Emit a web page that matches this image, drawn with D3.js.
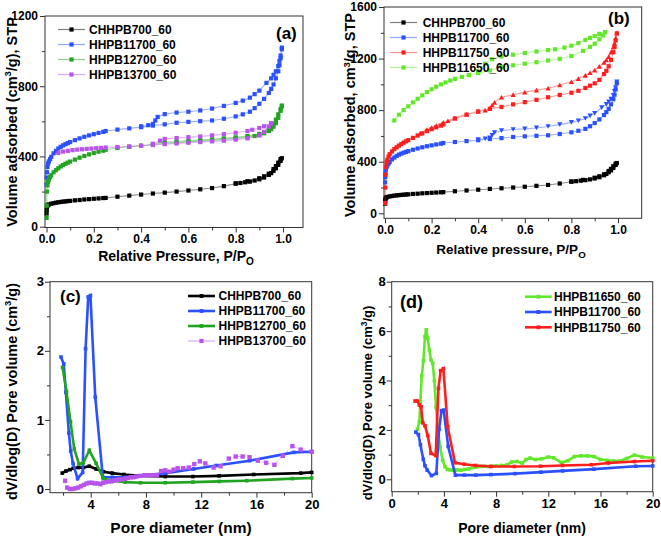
<!DOCTYPE html>
<html><head><meta charset="utf-8">
<script src="https://cdn.jsdelivr.net/npm/d3@7"></script>
<style>
body{margin:0;background:#fff;}
svg text{font-family:"Liberation Sans",Arial,sans-serif;font-weight:bold;fill:#000;}
</style></head><body>
<svg id="chart" width="661" height="537"></svg>
<script>
// ---------------- DATA ----------------
// Isotherms (P/P0, volume cm3/g STP)
const isoCHHPB700_ads=[[0.0005,75],[0.001,95],[0.002,112],[0.004,120],[0.007,124],[0.01,127],[0.02,131],[0.03,134],[0.04,137],[0.05,139],[0.06,141],[0.07,143],[0.08,144],[0.09,146],[0.1,147],[0.12,150],[0.14,152],[0.16,155],[0.18,157],[0.2,159],[0.22,161],[0.24,163],[0.25,164],[0.3,171],[0.35,177],[0.4,183],[0.45,189],[0.5,194],[0.55,200],[0.6,206],[0.65,213],[0.7,220],[0.75,231],[0.8,245],[0.82,249],[0.84,253],[0.86,257],[0.88,263],[0.9,270],[0.92,280],[0.94,295],[0.95,305],[0.96,318],[0.97,333],[0.98,352],[0.99,375],[0.995,390]];
const isoCHHPB700_des=[[0.99,385],[0.98,365],[0.97,345],[0.96,328],[0.94,302],[0.92,287],[0.9,276],[0.85,259],[0.8,247]];
const isoHHPB11700_ads=[[0.0005,240],[0.001,280],[0.002,310],[0.004,340],[0.007,360],[0.01,372],[0.015,385],[0.02,398],[0.03,418],[0.04,432],[0.05,445],[0.06,455],[0.07,463],[0.08,470],[0.09,476],[0.1,482],[0.12,493],[0.14,503],[0.16,512],[0.18,520],[0.2,527],[0.22,534],[0.24,540],[0.25,545],[0.3,553],[0.35,560],[0.4,567],[0.45,576],[0.5,583],[0.55,592],[0.6,597],[0.65,601],[0.7,605],[0.75,615],[0.8,628],[0.83,640],[0.86,655],[0.88,675],[0.9,700],[0.92,728],[0.94,762],[0.95,785],[0.96,810],[0.97,845],[0.98,885],[0.985,920],[0.99,960],[0.995,1010]];
const isoHHPB11700_des=[[0.995,1020],[0.99,975],[0.985,945],[0.98,915],[0.97,885],[0.96,865],[0.95,845],[0.93,819],[0.9,775],[0.88,755],[0.86,735],[0.83,718],[0.8,705],[0.75,688],[0.7,673],[0.65,662],[0.6,655],[0.55,650],[0.5,641],[0.47,625],[0.46,605],[0.45,585],[0.43,578],[0.4,572]];
const isoHHPB12700_ads=[[0.0005,50],[0.001,120],[0.002,200],[0.004,235],[0.007,255],[0.01,268],[0.015,282],[0.02,293],[0.03,310],[0.04,322],[0.05,333],[0.06,343],[0.07,351],[0.08,358],[0.09,365],[0.1,371],[0.12,382],[0.14,393],[0.16,403],[0.18,412],[0.2,420],[0.22,427],[0.24,433],[0.25,438],[0.3,448],[0.35,455],[0.4,462],[0.45,468],[0.5,475],[0.55,479],[0.6,483],[0.65,487],[0.7,492],[0.75,497],[0.8,503],[0.85,510],[0.88,516],[0.9,522],[0.92,532],[0.94,545],[0.95,555],[0.96,570],[0.97,590],[0.98,620],[0.99,660],[0.995,685]];
const isoHHPB12700_des=[[0.995,690],[0.99,670],[0.98,640],[0.97,610],[0.96,585],[0.95,565],[0.94,550],[0.92,537],[0.9,529],[0.85,517],[0.8,509],[0.75,503],[0.7,498],[0.65,493],[0.6,489],[0.55,485],[0.5,481],[0.45,471]];
const isoHHPB13700_ads=[[0.05,420],[0.07,428],[0.09,432],[0.11,436],[0.13,439],[0.15,441],[0.17,443],[0.19,445],[0.21,447],[0.23,449],[0.25,451],[0.3,454],[0.35,457],[0.4,461],[0.45,465],[0.5,470],[0.55,474],[0.6,478],[0.65,482],[0.7,486],[0.75,490],[0.8,496],[0.85,503],[0.9,520],[0.92,540],[0.94,570],[0.95,590]];
const isoHHPB13700_des=[[0.95,590],[0.92,572],[0.9,562],[0.87,552],[0.85,545],[0.8,535],[0.75,527],[0.7,520],[0.65,514],[0.6,510],[0.55,505],[0.5,500],[0.48,490],[0.45,472]];
const isoHHPB11750_ads=[[0.0005,80],[0.001,200],[0.002,300],[0.004,360],[0.007,395],[0.01,415],[0.015,440],[0.02,458],[0.03,480],[0.04,498],[0.05,512],[0.06,525],[0.07,537],[0.08,548],[0.09,558],[0.1,567],[0.12,585],[0.14,603],[0.16,620],[0.18,637],[0.2,652],[0.22,667],[0.24,680],[0.25,690],[0.3,735],[0.35,765],[0.4,790],[0.45,810],[0.5,825],[0.55,845],[0.6,862],[0.65,880],[0.7,900],[0.75,918],[0.8,935],[0.83,950],[0.86,972],[0.88,990],[0.9,1008],[0.92,1035],[0.94,1080],[0.95,1105],[0.96,1140],[0.97,1190],[0.98,1250],[0.985,1290],[0.99,1340],[0.995,1395]];
const isoHHPB11750_des=[[0.995,1400],[0.99,1360],[0.985,1320],[0.98,1290],[0.97,1250],[0.96,1215],[0.95,1190],[0.94,1170],[0.92,1140],[0.9,1110],[0.88,1090],[0.86,1070],[0.83,1045],[0.8,1020],[0.75,995],[0.7,970],[0.65,955],[0.6,940],[0.55,920],[0.5,900],[0.47,860],[0.46,840],[0.45,815],[0.43,800],[0.4,790],[0.35,768],[0.3,740],[0.27,718],[0.25,705],[0.22,680],[0.2,665],[0.18,650],[0.15,620]];
const isoHHPB11650_ads=[[0.04,720],[0.06,765],[0.08,800],[0.1,830],[0.12,860],[0.14,888],[0.16,915],[0.18,940],[0.2,962],[0.22,982],[0.24,1000],[0.26,1015],[0.28,1030],[0.3,1043],[0.33,1058],[0.36,1072],[0.4,1088],[0.45,1108],[0.5,1135],[0.55,1148],[0.6,1160],[0.65,1172],[0.7,1185],[0.75,1198],[0.8,1220],[0.85,1260],[0.88,1290],[0.9,1315],[0.92,1350],[0.935,1380],[0.945,1405]];
const isoHHPB11650_des=[[0.945,1405],[0.92,1392],[0.9,1375],[0.88,1360],[0.86,1345],[0.83,1320],[0.8,1300],[0.77,1285],[0.73,1272],[0.7,1266],[0.65,1255],[0.6,1243],[0.55,1230],[0.5,1217],[0.46,1195],[0.43,1160],[0.4,1100]];

// Pore size distributions (pore diameter nm, dV/dlog(D))
const psdCHHPB700=[[1.94,0.23],[2.21,0.26],[2.5,0.28],[2.74,0.3],[3.1,0.31],[3.47,0.31],[3.9,0.33],[4.39,0.29],[4.92,0.25],[5.55,0.23],[6.4,0.21],[7.6,0.19],[9.4,0.18],[11.4,0.18],[13.3,0.19],[15.8,0.21],[19.2,0.23],[20,0.24]];
const psdHHPB11700=[[1.85,1.91],[2.05,1.81],[2.2,1.4],[2.42,0.81],[2.55,0.55],[2.72,0.37],[3.05,0.15],[3.42,0.24],[3.63,2.03],[3.82,2.78],[3.98,2.8],[4.33,1.33],[4.88,0.17],[5.57,0.17],[6.45,0.17],[7.6,0.19],[9.45,0.23],[11.45,0.29],[13.1,0.34],[15.5,0.41],[18.7,0.53],[20,0.54]];
const psdHHPB12700=[[1.96,1.76],[2.25,1.41],[2.54,0.97],[2.81,0.58],[3.15,0.36],[3.47,0.38],[3.9,0.56],[4.39,0.37],[4.92,0.15],[5.6,0.12],[6.5,0.1],[7.6,0.09],[9.4,0.09],[11.4,0.1],[13.3,0.11],[15.3,0.12],[18.6,0.15],[20,0.16]];
const psdHHPB13700=[[2.15,0.12],[2.3,0.02],[2.5,0.0],[2.7,0.0],[2.9,0.01],[3.1,0.02],[3.3,0.04],[3.5,0.06],[3.7,0.08],[3.9,0.09],[4.1,0.09],[4.3,0.08],[4.5,0.08],[4.7,0.07],[4.9,0.09],[5.1,0.1],[5.3,0.11],[5.5,0.11],[5.7,0.12],[5.9,0.13],[6.1,0.14],[6.3,0.14],[6.5,0.15],[6.7,0.16],[6.9,0.17],[7.1,0.17],[7.3,0.18],[7.6,0.19],[7.9,0.2],[8.2,0.2],[8.5,0.2],[8.8,0.2],[9.1,0.26],[9.4,0.27],[9.7,0.25],[10.0,0.28],[10.3,0.3],[10.7,0.3],[11.1,0.31],[11.5,0.36],[11.9,0.4],[12.3,0.37],[12.9,0.31],[13.4,0.33],[14.0,0.44],[14.5,0.47],[15.0,0.47],[15.5,0.46],[16.1,0.41],[16.7,0.38],[17.3,0.35],[17.9,0.48],[18.6,0.62],[19.2,0.57],[20,0.54]];
const psdHHPB11650=[[1.97,2.02],[2.12,2.33],[2.2,3.14],[2.3,4.18],[2.43,4.8],[2.55,5.78],[2.65,6.05],[2.76,5.71],[2.89,5.24],[3.01,4.83],[3.14,4.7],[3.27,3.99],[3.4,2.91],[3.52,2.13],[3.7,1.32],[3.9,0.78],[4.09,0.51],[4.27,0.4],[4.47,0.38],[4.7,0.36],[5.0,0.38],[5.3,0.37],[5.6,0.4],[5.9,0.42],[6.2,0.48],[6.5,0.5],[6.8,0.52],[7.1,0.53],[7.4,0.52],[7.7,0.53],[8.0,0.55],[8.4,0.56],[8.8,0.58],[9.2,0.7],[9.6,0.72],[10.0,0.65],[10.3,0.8],[10.6,0.86],[11.0,0.8],[11.5,0.83],[12.0,0.9],[12.4,0.87],[13.0,0.68],[13.5,0.75],[14.0,0.92],[14.5,0.95],[15.0,0.95],[15.5,0.92],[16.0,0.8],[16.5,0.77],[17.0,0.74],[17.5,0.74],[18.0,0.84],[18.6,0.98],[19.2,0.9],[20,0.86]];
const psdHHPB11750=[[1.79,3.17],[1.97,3.17],[2.12,3.01],[2.25,2.94],[2.38,2.29],[2.55,2.17],[2.76,1.77],[3.01,1.05],[3.37,0.96],[3.58,3.68],[3.75,4.4],[3.96,4.48],[4.29,2.13],[4.85,0.67],[5.57,0.61],[6.44,0.56],[7.6,0.52],[9.4,0.52],[11.4,0.53],[13.1,0.56],[15.3,0.59],[16.6,0.66],[18.6,0.72],[20,0.75]];

// Tick values
const ticksIsoX=[0,0.2,0.4,0.6,0.8,1.0];
const ticksIsoXMinor=[0.1,0.3,0.5,0.7,0.9];
const ticksAY=[0,400,800,1200];
const ticksAYMinor=[200,600,1000];
const ticksBY=[0,400,800,1200,1600];
const ticksBYMinor=[200,600,1000,1400];
const ticksCX=[4,8,12,16,20];
const ticksCXMinor=[2,6,10,14,18];
const ticksCY=[0,1,2,3];
const ticksCYMinor=[0.5,1.5,2.5];
const ticksDX=[0,4,8,12,16,20];
const ticksDXMinor=[2,6,10,14,18];
const ticksDY=[0,2,4,6,8];
const ticksDYMinor=[1,3,5,7];

// Series names
const namesA=["CHHPB700_60","HHPB11700_60","HHPB12700_60","HHPB13700_60"];
const namesB=["CHHPB700_60","HHPB11700_60","HHPB11750_60","HHPB11650_60"];
const namesC=["CHHPB700_60","HHPB11700_60","HHPB12700_60","HHPB13700_60"];
const namesD=["HHPB11650_60","HHPB11700_60","HHPB11750_60"];

// ---------------- STYLE ----------------
const C_BLACK="#000000", C_BLUE="#2a50ff", C_GREEN="#22a422", C_PURPLE="#b854ec", C_RED="#ff1e1e", C_LIME="#62e82a";

const svg=d3.select("#chart");
const fmtInt=d3.format("d"), fmt1=d3.format(".1f");

function makePanel(cfg){
  const g=svg.append("g");
  const x=d3.scaleLinear().domain(cfg.xd).range(cfg.xr);
  const y=d3.scaleLinear().domain(cfg.yd).range(cfg.yr);
  const b=cfg.box;
  const gb=g.append("g").attr("transform",`translate(0,${b.b})`);
  gb.call(d3.axisBottom(x).tickValues(cfg.xt).tickSize(5).tickPadding(cfg.xpad).tickFormat(cfg.xfmt));
  gb.append("g").call(d3.axisBottom(x).tickValues(cfg.xtm).tickSize(3).tickFormat(""));
  const gl=g.append("g").attr("transform",`translate(${b.l},0)`);
  gl.call(d3.axisLeft(y).tickValues(cfg.yt).tickSize(5).tickPadding(cfg.ypad).tickFormat(fmtInt));
  gl.append("g").call(d3.axisLeft(y).tickValues(cfg.ytm).tickSize(3).tickFormat(""));
  g.selectAll(".domain").remove();
  g.selectAll(".tick line").attr("stroke","#333");
  g.selectAll(".tick text").attr("font-size",cfg.fs).attr("fill","#000");
  g.selectAll("g").attr("font-family",null).attr("font-size",null);
  g.append("rect").attr("x",b.l).attr("y",b.t).attr("width",b.r-b.l).attr("height",b.b-b.t)
    .attr("fill","none").attr("stroke","#333").attr("stroke-width",1);
  const plot=g.append("g");
  return {g,x,y,plot};
}

function sq(sel,cx,cy,s,col){
  sel.append("rect").attr("x",cx-s/2).attr("y",cy-s/2).attr("width",s).attr("height",s).attr("fill",col);
}
function tri(sel,cx,cy,s,col,down){
  const h=s*0.9;
  const p=down?[[cx-s/2,cy-h/2],[cx+s/2,cy-h/2],[cx,cy+h/2]]:[[cx-s/2,cy+h/2],[cx+s/2,cy+h/2],[cx,cy-h/2]];
  sel.append("path").attr("d","M"+p.map(q=>q.join(",")).join("L")+"Z").attr("fill",col);
}

function iso(P,ads,des,col,desShape){
  const line=d3.line().x(d=>P.x(d[0])).y(d=>P.y(d[1]));
  P.plot.append("path").attr("d",line(ads.concat(des))).attr("fill","none").attr("stroke",col).attr("stroke-opacity",0.45).attr("stroke-width",1.1);
  ads.forEach(d=>sq(P.plot,P.x(d[0]),P.y(d[1]),4.2,col));
  des.forEach(d=>{
    if(desShape==="up") tri(P.plot,P.x(d[0]),P.y(d[1]),5.2,col,false);
    else if(desShape==="down") tri(P.plot,P.x(d[0]),P.y(d[1]),5.2,col,true);
    else sq(P.plot,P.x(d[0]),P.y(d[1]),4.2,col);
  });
}
function psd(P,data,col,thin){
  const line=d3.line().x(d=>P.x(d[0])).y(d=>P.y(d[1]));
  P.plot.append("path").attr("d",line(data)).attr("fill","none").attr("stroke",col)
    .attr("stroke-width",thin?1:2.6).attr("stroke-opacity",thin?0.5:1)
    .attr("stroke-dasharray",thin?"3,2":null);
  data.forEach(d=>sq(P.plot,P.x(d[0]),P.y(d[1]),thin?4.4:3.6,col));
}
function legend(g,names,cols,x0,x1,xt,ys,thick,thinIdx){
  names.forEach((n,i)=>{
    const yy=ys[i]; const thin=!thick||(thinIdx===i);
    g.append("line").attr("x1",x0).attr("x2",x1).attr("y1",yy).attr("y2",yy)
      .attr("stroke",cols[i]).attr("stroke-width",thin?1.2:2.6).attr("stroke-opacity",thin?0.5:1);
    sq(g,(x0+x1)/2,yy,thin?4.2:3.8,cols[i]);
    g.append("text").attr("x",xt).attr("y",yy+4.3).attr("font-size",12).text(n);
  });
}
function ytitle(g,x,y,fs,parts){
  const t=g.append("text").attr("transform",`translate(${x},${y}) rotate(-90)`).attr("text-anchor","middle").attr("font-size",fs);
  parts.forEach(p=>{
    const ts=t.append("tspan").text(p.t);
    if(p.sup){ts.attr("dy",-fs*0.38).attr("font-size",fs*0.65);}
    if(p.after){ts.attr("dy",fs*0.38);}
  });
}
function xtitle(g,x,y,fs,main,sub){
  const t=g.append("text").attr("x",x).attr("y",y).attr("text-anchor","middle").attr("font-size",fs);
  t.append("tspan").text(main);
  if(sub) t.append("tspan").attr("dy",fs*0.3).attr("font-size",fs*0.72).text(sub);
}

// -------- Panel (a) --------
const PA=makePanel({box:{l:45,r:303,t:16,b:227.5},xd:[0,1],xr:[46.5,283],yd:[0,1200],yr:[226.7,16],
  xt:ticksIsoX,xtm:ticksIsoXMinor,yt:ticksAY,ytm:ticksAYMinor,fs:12,xpad:2,ypad:2,xfmt:fmt1});
iso(PA,isoCHHPB700_ads,isoCHHPB700_des,C_BLACK);
iso(PA,isoHHPB11700_ads,isoHHPB11700_des,C_BLUE);
iso(PA,isoHHPB12700_ads,isoHHPB12700_des,C_GREEN);
iso(PA,isoHHPB13700_ads,isoHHPB13700_des,C_PURPLE);
legend(PA.g,namesA,[C_BLACK,C_BLUE,C_GREEN,C_PURPLE],58,85,89,[29.5,44.5,59.5,74.5],false);
PA.g.append("text").attr("x",276).attr("y",38.5).attr("font-size",17).text("(a)");
ytitle(PA.g,16.5,122,14.5,[{t:"Volume adsorbed (cm"},{t:"3",sup:true},{t:"/g), STP",after:true}]);
xtitle(PA.g,176,261,14,"Relative Pressure, P/P","O");

// -------- Panel (b) --------
const PB=makePanel({box:{l:384,r:641.7,t:7,b:218.3},xd:[0,1],xr:[385,618],yd:[0,1600],yr:[213.3,7],
  xt:ticksIsoX,xtm:ticksIsoXMinor,yt:ticksBY,ytm:ticksBYMinor,fs:12,xpad:2,ypad:2,xfmt:fmt1});
iso(PB,isoCHHPB700_ads,isoCHHPB700_des,C_BLACK);
iso(PB,isoHHPB11700_ads,isoHHPB11700_des,C_BLUE,"down");
iso(PB,isoHHPB11750_ads,isoHHPB11750_des,C_RED,"up");
iso(PB,isoHHPB11650_ads,isoHHPB11650_des,C_LIME);
legend(PB.g,namesB,[C_BLACK,C_BLUE,C_RED,C_LIME],390,417,422.7,[22.5,37.5,52.5,67.5],false);
PB.g.append("text").attr("x",608).attr("y",23.5).attr("font-size",17).text("(b)");
ytitle(PB.g,355,115,14.5,[{t:"Volume adsorbed, cm"},{t:"3",sup:true},{t:"/g, STP",after:true}]);
xtitle(PB.g,511,254,13.5,"Relative pressure, P/P","O");

// -------- Panel (c) --------
const PC=makePanel({box:{l:50,r:311.7,t:281.7,b:492.7},xd:[4,20],xr:[90.7,311.7],yd:[0,3],yr:[489,281.7],
  xt:ticksCX,xtm:ticksCXMinor,yt:ticksCY,ytm:ticksCYMinor,fs:13,xpad:2,ypad:1,xfmt:fmtInt});
psd(PC,psdCHHPB700,C_BLACK);
psd(PC,psdHHPB11700,C_BLUE);
psd(PC,psdHHPB12700,C_GREEN);
psd(PC,psdHHPB13700,C_PURPLE,true);
legend(PC.g,namesC,[C_BLACK,C_BLUE,C_GREEN,C_PURPLE],188,215,218.5,[296,311,326,341],true,3);
PC.g.append("text").attr("x",60).attr("y",302).attr("font-size",17).text("(c)");
ytitle(PC.g,16.5,391.5,14.5,[{t:"dV/dlog(D) Pore volume (cm"},{t:"3",sup:true},{t:"/g)",after:true}]);
xtitle(PC.g,181,533,15.5,"Pore diameter (nm)");

// -------- Panel (d) --------
const PD=makePanel({box:{l:391.7,r:652.7,t:281.7,b:491.7},xd:[0,20],xr:[391.7,652.7],yd:[0,8],yr:[479.3,281.7],
  xt:ticksDX,xtm:ticksDXMinor,yt:ticksDY,ytm:ticksDYMinor,fs:13,xpad:2,ypad:1,xfmt:fmtInt});
psd(PD,psdHHPB11650,C_LIME);
psd(PD,psdHHPB11700,C_BLUE);
psd(PD,psdHHPB11750,C_RED);
legend(PD.g,namesD,[C_LIME,C_BLUE,C_RED],525,551.7,554,[296.7,312,327.3],true);
PD.g.append("text").attr("x",400).attr("y",307.5).attr("font-size",18).text("(d)");
ytitle(PD.g,371.5,403,13,[{t:"dV/dlog(D) Pore volume (cm"},{t:"3",sup:true},{t:"/g)",after:true}]);
xtitle(PD.g,522,533,14,"Pore diameter (nm)");
</script>
</body></html>
